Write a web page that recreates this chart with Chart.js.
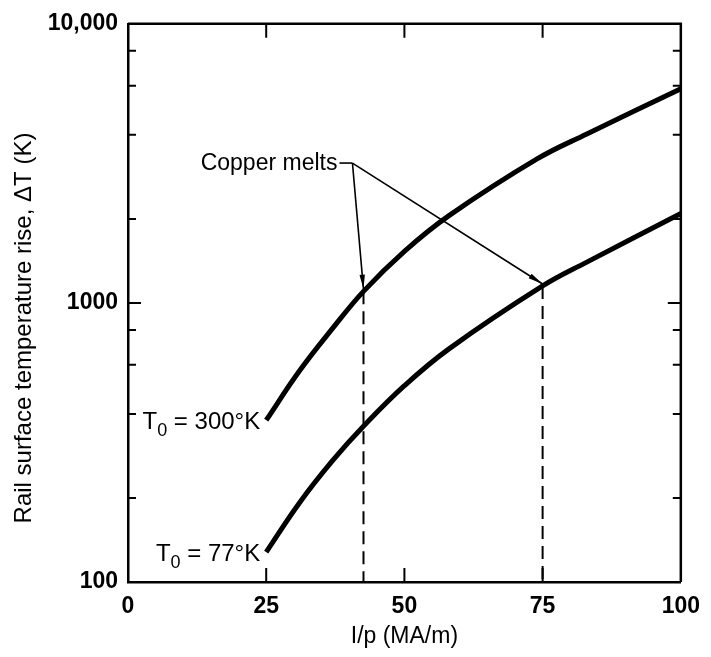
<!DOCTYPE html>
<html>
<head>
<meta charset="utf-8">
<title>Rail surface temperature rise</title>
<script src="https://cdn.jsdelivr.net/npm/chart.js@4.4.0/dist/chart.umd.min.js"></script>
<style>
    html, body { margin: 0; padding: 0; background: #fff; }
    #div_c1 { width: 711px; height: 657px; }
</style>
</head>
<body>
<div id="div_c1"><canvas id="Chart1" width="711" height="657"></canvas></div>
<script>
// axis ticks
var xTicks = [0, 25, 50, 75, 100];
var yTicks = [100, 200, 400, 600, 800, 1000, 2000, 4000, 6000, 8000, 10000];
var yTickLabels = ['100', '', '', '', '', '1000', '', '', '', '', '10,000'];

// T0 = 300 K curve
var ip300 = [25, 31, 37, 42.6, 50, 58, 74, 83, 100];
var dT300 = [380, 570, 810, 1100, 1530, 2050, 3280, 4030, 5850];

// T0 = 77 K curve
var ip77 = [25, 31, 37, 42.8, 50, 58, 75, 83, 100];
var dT77 = [128, 192, 272, 365, 505, 683, 1150, 1400, 2090];

// copper melting points on each curve
var meltIp = [42.6, 75];
var meltDT = [1100, 1150];

var curveLabels = ['300°K', '77°K'];
var calloutText = 'Copper melts';
var calloutAt = { x: 40.6, y: 3170 };
var xTitle = 'I/p (MA/m)';
var yTitle = 'Rail surface temperature rise, ΔT (K)';

var fontFamily = '"Liberation Sans", Arial, Helvetica, sans-serif';

function toPoints(xs, ys) {
    var pts = [];
    for (var i = 0; i < xs.length; i++) {
        pts.push({ x: xs[i], y: ys[i] });
    }
    return pts;
}

// frame, inward ticks, arrows and text labels
var decorPlugin = {
    id: 'decor',
    afterDatasetsDraw: function (chart) {
        var ctx = chart.ctx;
        var xs = chart.scales.x;
        var ys = chart.scales.y;
        var a = chart.chartArea;

        ctx.save();
        ctx.strokeStyle = '#000';
        ctx.fillStyle = '#000';

        // top and right frame
        ctx.lineWidth = 2.5;
        ctx.beginPath();
        ctx.moveTo(a.left, a.top);
        ctx.lineTo(a.right, a.top);
        ctx.lineTo(a.right, a.bottom);
        ctx.stroke();

        // inward ticks
        ctx.lineWidth = 2;
        ctx.beginPath();
        yTicks.forEach(function (v, i) {
            if (v == 100 || v == 10000) return;
            var py = ys.getPixelForValue(v);
            var len = yTickLabels[i] ? 13 : 8;
            ctx.moveTo(a.left, py);
            ctx.lineTo(a.left + len, py);
            ctx.moveTo(a.right, py);
            ctx.lineTo(a.right - len, py);
        });
        xTicks.forEach(function (v) {
            if (v == 0 || v == 100) return;
            var px = xs.getPixelForValue(v);
            ctx.moveTo(px, a.top);
            ctx.lineTo(px, a.top + 14);
            ctx.moveTo(px, a.bottom);
            ctx.lineTo(px, a.bottom - 14);
        });
        ctx.stroke();

        // callout arrows
        var cx = xs.getPixelForValue(calloutAt.x);
        var cy = ys.getPixelForValue(calloutAt.y);
        ctx.lineWidth = 1.6;
        for (var i = 0; i < meltIp.length; i++) {
            var tx = xs.getPixelForValue(meltIp[i]);
            var ty = ys.getPixelForValue(meltDT[i]) - 2;
            var ang = Math.atan2(ty - cy, tx - cx);
            ctx.beginPath();
            ctx.moveTo(cx, cy);
            ctx.lineTo(tx, ty);
            ctx.stroke();
            ctx.beginPath();
            ctx.moveTo(tx, ty);
            ctx.lineTo(tx - 15 * Math.cos(ang - 0.18), ty - 15 * Math.sin(ang - 0.18));
            ctx.lineTo(tx - 15 * Math.cos(ang + 0.18), ty - 15 * Math.sin(ang + 0.18));
            ctx.closePath();
            ctx.fill();
        }
        ctx.beginPath();
        ctx.moveTo(cx - 13, cy);
        ctx.lineTo(cx, cy);
        ctx.stroke();

        ctx.font = '23px ' + fontFamily;
        ctx.textAlign = 'right';
        ctx.textBaseline = 'middle';
        ctx.fillText(calloutText, cx - 15, cy + 1);

        // T0 labels at curve starts
        var starts = [[ip300[0], dT300[0]], [ip77[0], dT77[0]]];
        starts.forEach(function (s, k) {
            var right = xs.getPixelForValue(s[0]) - 6;
            var base = ys.getPixelForValue(s[1]) + 9;
            var big = '24px ' + fontFamily;
            var small = '18px ' + fontFamily;
            ctx.textAlign = 'left';
            ctx.textBaseline = 'alphabetic';
            ctx.font = big;
            var rest = ' = ' + curveLabels[k];
            var wRest = ctx.measureText(rest).width;
            var wT = ctx.measureText('T').width;
            ctx.font = small;
            var wSub = ctx.measureText('0').width;
            var left = right - wRest - wSub - wT;
            ctx.font = big;
            ctx.fillText('T', left, base);
            ctx.fillText(rest, left + wT + wSub, base);
            ctx.font = small;
            ctx.fillText('0', left + wT, base + 7);
        });

        // axis titles
        ctx.textAlign = 'center';
        ctx.textBaseline = 'middle';
        ctx.font = '23px ' + fontFamily;
        ctx.fillText(xTitle, (a.left + a.right) / 2, 637);
        ctx.save();
        ctx.translate(24, 328);
        ctx.rotate(-Math.PI / 2);
        ctx.font = '24px ' + fontFamily;
        ctx.fillText(yTitle, 0, 0);
        ctx.restore();

        ctx.restore();
    }
};

function drawChart1() {
    var ctx1 = document.getElementById('Chart1');

    var datasets = [{
        label: 'T0 = 300 K',
        data: toPoints(ip300, dT300),
        borderColor: '#000',
        borderWidth: 5,
        pointRadius: 0,
        tension: 0.4,
        borderCapStyle: 'butt'
    }, {
        label: 'T0 = 77 K',
        data: toPoints(ip77, dT77),
        borderColor: '#000',
        borderWidth: 5,
        pointRadius: 0,
        tension: 0.4,
        borderCapStyle: 'butt'
    }];

    // dashed drops from the melting points to the x axis
    for (var i = 0; i < meltIp.length; i++) {
        datasets.push({
            label: 'melt ' + i,
            data: [{ x: meltIp[i], y: meltDT[i] }, { x: meltIp[i], y: 100 }],
            borderColor: '#000',
            borderWidth: 2,
            borderDash: [13, 7],
            pointRadius: 0
        });
    }

    var crt1 = new Chart(ctx1, {
        type: 'line',
        data: { datasets: datasets },
        plugins: [decorPlugin],
        options: {
            responsive: false,
            animation: false,
            devicePixelRatio: 1,
            layout: { padding: { left: 0, top: 21, right: 29, bottom: 0 } },
            plugins: {
                legend: { display: false },
                tooltip: { enabled: false }
            },
            scales: {
                x: {
                    type: 'linear',
                    min: 0,
                    max: 100,
                    afterBuildTicks: function (scale) {
                        scale.ticks = xTicks.map(function (v) { return { value: v }; });
                    },
                    afterFit: function (scale) { scale.height = 75; },
                    ticks: {
                        color: '#000',
                        padding: 11,
                        maxRotation: 0,
                        font: { family: fontFamily, size: 23, weight: 'bold' }
                    },
                    grid: { display: false, drawTicks: false },
                    border: { display: true, color: '#000', width: 2.5 }
                },
                y: {
                    type: 'logarithmic',
                    min: 100,
                    max: 10000,
                    afterBuildTicks: function (scale) {
                        scale.ticks = yTicks.map(function (v) { return { value: v }; });
                    },
                    afterFit: function (scale) { scale.width = 128; },
                    ticks: {
                        color: '#000',
                        padding: 10,
                        autoSkip: false,
                        font: { family: fontFamily, size: 23, weight: 'bold' },
                        callback: function (value, index) {
                            return yTickLabels[index];
                        }
                    },
                    grid: { display: false, drawTicks: false },
                    border: { display: true, color: '#000', width: 2.5 }
                }
            }
        }
    });
}

drawChart1();
</script>
</body>
</html>
